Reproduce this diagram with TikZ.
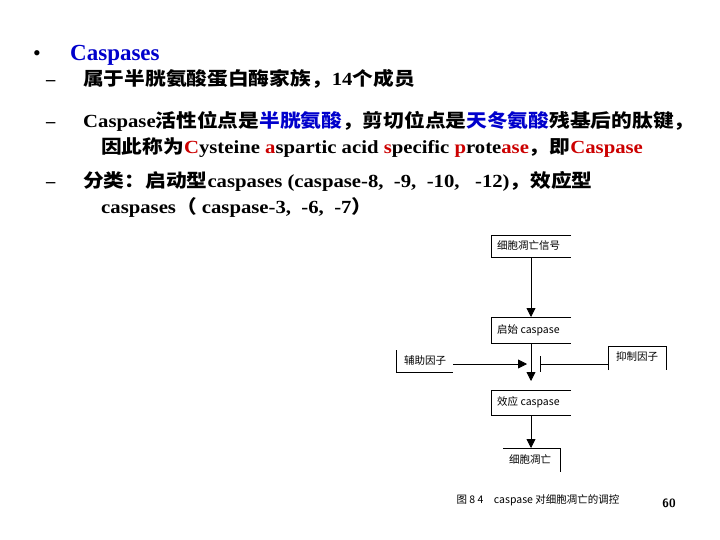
\documentclass[tikz,border=0pt]{standalone}
\usepackage{fontspec}
\usetikzlibrary{arrows.meta}
\setmainfont{Liberation Serif}
\newfontfamily\cjk{Noto Sans CJK SC}
\newfontfamily\cjkb{Noto Sans CJK SC Bold}
\newcommand{\C}[1]{{\cjkb #1}}
\newcommand{\W}[1]{\scalebox{1.12}[1]{#1}}
\definecolor{bl}{RGB}{0,0,204}
\definecolor{rd}{RGB}{204,0,0}
\begin{document}
\begin{tikzpicture}[x=1pt,y=-1pt,
  txt/.style={anchor=base west,inner sep=0,font=\bfseries\fontsize{18.5}{18.5}\selectfont},
  box/.style={font=\cjk\fontsize{10.5}{10.5}\selectfont,inner sep=0},
  ln/.style={line width=0.8pt},
  arr/.style={ln,-{Triangle[length=9pt,width=9pt]}}]
\useasboundingbox (0,0) rectangle (720,540);
\fill[white] (0,0) rectangle (720,540);
\node[anchor=base west,inner sep=0,font=\fontsize{22}{22}\selectfont] (b0) at (33,61) {•};
\node[anchor=base west,inner sep=0,font=\bfseries\fontsize{23}{23}\selectfont,text=bl] (t0) at (70,61) {Caspases};
\foreach \y/\n in {86/d1,128/d2,188/d3}{\node[txt] (\n) at (46,\y) {–};}
\node[txt] (l1) at (83,86) {\W{\C{属于半胱氨酸蛋白酶家族，}14\C{个成员}}};
\node[txt] (l2) at (83,128) {\W{Caspase\C{活性位点是}\textcolor{bl}{\C{半胱氨酸}}\C{，剪切位点是}\textcolor{bl}{\C{天冬氨酸}}\C{残基后的肽键，}}};
\node[txt] (l3) at (101,154) {\W{\C{因此称为}\textcolor{rd}{C}ysteine \textcolor{rd}{a}spartic acid \textcolor{rd}{s}pecific \textcolor{rd}{p}rote\textcolor{rd}{ase}\C{，即}\textcolor{rd}{Caspase}}};
\node[txt] (l4) at (83,188) {\W{\C{分类：启动型}caspases (caspase-8,\ \ -9,\ \ -10,\ \ \ -12)\C{，效应型}}};
\node[txt] (l5) at (101,214) {\W{caspases\C{（} caspase-3,\ \ -6,\ \ -7\C{）}}};
% flowchart
\node[box,anchor=west] (s1) at (497,246) {细胞凋亡信号};
\draw[ln] (571,235) -| (491,257) -- (571,257);
\node[box,anchor=west] (s2) at (497,330) {启始 caspase};
\draw[ln] (571,317) -| (491,343) -- (571,343);
\node[box,anchor=west] (s3) at (497,402) {效应 caspase};
\draw[ln] (571,390) -| (491,415) -- (571,415);
\node[box] (s4) at (530,460) {细胞凋亡};
\draw[ln] (503,448) -| (560,472);
\node[box] (h) at (425,361) {辅助因子};
\draw[ln] (396,350) |- (453,372);
\node[box] (inh) at (637,357) {抑制因子};
\draw[ln] (608,370) |- (666,346) -- (666,370);
\coordinate (a1s) at (531,257); \coordinate (a1e) at (531,317);
\draw[arr] (a1s) -- (a1e);
\coordinate (a2s) at (531,343); \coordinate (a2e) at (531,381);
\draw[arr] (a2s) -- (a2e);
\coordinate (hs) at (453,364); \coordinate (he) at (527,364);
\draw[arr] (hs) -- (he);
\coordinate (is) at (608,364); \coordinate (ie) at (540,364);
\draw[ln] (is) -- (ie);
\draw[ln] (540,356) -- (540,372);
\coordinate (a3s) at (531,415); \coordinate (a3e) at (531,448);
\draw[arr] (a3s) -- (a3e);
\node[font=\cjk\fontsize{10.5}{10.5}\selectfont,inner sep=0] (cap) at (538,500) {图 8 4\quad caspase 对细胞凋亡的调控};
\node[font=\sffamily\bfseries\fontsize{12}{12}\selectfont,inner sep=0] (pg) at (669,503) {60};
\end{tikzpicture}
\end{document}
